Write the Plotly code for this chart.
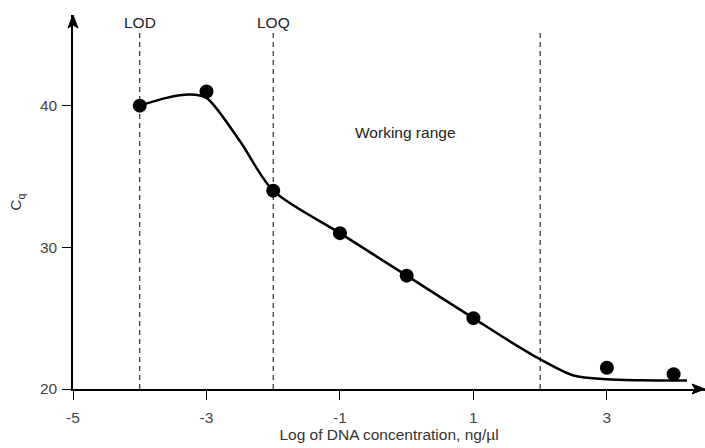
import plotly.graph_objects as go

# measured points
pt_x = [-4, -3, -2, -1, 0, 1, 3, 4]
pt_y = [40, 41, 34, 31, 28, 25, 21.5, 21.05]

# fitted curve knots
curve_x = [-4, -3.6, -3.25, -3.0, -2.5, -2, -1, 0, 1, 1.5, 2, 2.5, 3, 3.5, 4.2]
curve_y = [40, 40.55, 40.78, 40.55, 37.5, 34, 31, 28, 25, 23.5, 22.1, 20.95, 20.68, 20.62, 20.6]

limit_x = [-4, -2, 2]
limit_labels = ["LOD", "LOQ", ""]

x_ticks = [-5, -3, -1, 1, 3]
y_ticks = [20, 30, 40]

FONT = "Liberation Sans, Arial, sans-serif"
FS = 15.5

fig = go.Figure()
fig.add_trace(go.Scatter(x=curve_x, y=curve_y, mode="lines",
                         line=dict(color="black", width=2.5, shape="spline", smoothing=0.8),
                         hoverinfo="skip", showlegend=False))
fig.add_trace(go.Scatter(x=pt_x, y=pt_y, mode="markers",
                         marker=dict(color="black", size=14), showlegend=False))

for lx, lab in zip(limit_x, limit_labels):
    fig.add_shape(type="line", x0=lx, x1=lx, y0=20, y1=45.2, xref="x", yref="y",
                  line=dict(color="black", width=1, dash="5px,4px"), layer="below")
    if lab:
        fig.add_annotation(x=lx, y=45.9, text=lab, showarrow=False, xref="x", yref="y",
                           font=dict(family=FONT, size=FS, color="#222"))

fig.add_annotation(x=-0.02, y=38.1, text="Working range", showarrow=False,
                   font=dict(family=FONT, size=FS, color="#222"))

# axis arrowheads as pixel-sized shapes
fig.add_shape(type="path", xref="x domain", yref="y domain",
              xsizemode="pixel", ysizemode="pixel", xanchor=1, yanchor=0,
              path="M 0 0 L -13 5 L -10 0 L -13 -5 Z",
              fillcolor="black", line=dict(color="black", width=1))
fig.add_shape(type="path", xref="x domain", yref="y domain",
              xsizemode="pixel", ysizemode="pixel", xanchor=0, yanchor=1,
              path="M 0 0 L -5 -13 L 0 -10 L 5 -13 Z",
              fillcolor="black", line=dict(color="black", width=1))

fig.update_layout(
    width=705, height=448,
    margin=dict(l=73, r=0, t=15, b=59),
    paper_bgcolor="white", plot_bgcolor="white",
    font=dict(family=FONT, size=FS, color="#444"),
    xaxis=dict(range=[-5, 4.47], tickvals=x_ticks, ticktext=[str(v) for v in x_ticks],
               showline=True, linecolor="black", linewidth=1.5, ticks="outside",
               ticklen=9, tickcolor="black", tickwidth=1.2, showgrid=False, zeroline=False,
               ticklabelstandoff=5,
               title=dict(text="Log of DNA concentration, ng/µl", standoff=0,
                          font=dict(family=FONT, size=FS, color="#333")),
               tickfont=dict(family=FONT, size=FS, color="#444")),
    yaxis=dict(range=[20, 46.4], tickvals=y_ticks, showline=True, linecolor="black",
               linewidth=1.5, ticks="outside", ticklen=9, tickcolor="black", tickwidth=1.2,
               showgrid=False, zeroline=False, ticklabelstandoff=2,
               title=dict(text="C<sub>q</sub>", standoff=14,
                          font=dict(family=FONT, size=FS, color="#333")),
               tickfont=dict(family=FONT, size=FS, color="#444")),
)

fig.write_html("out.html")
